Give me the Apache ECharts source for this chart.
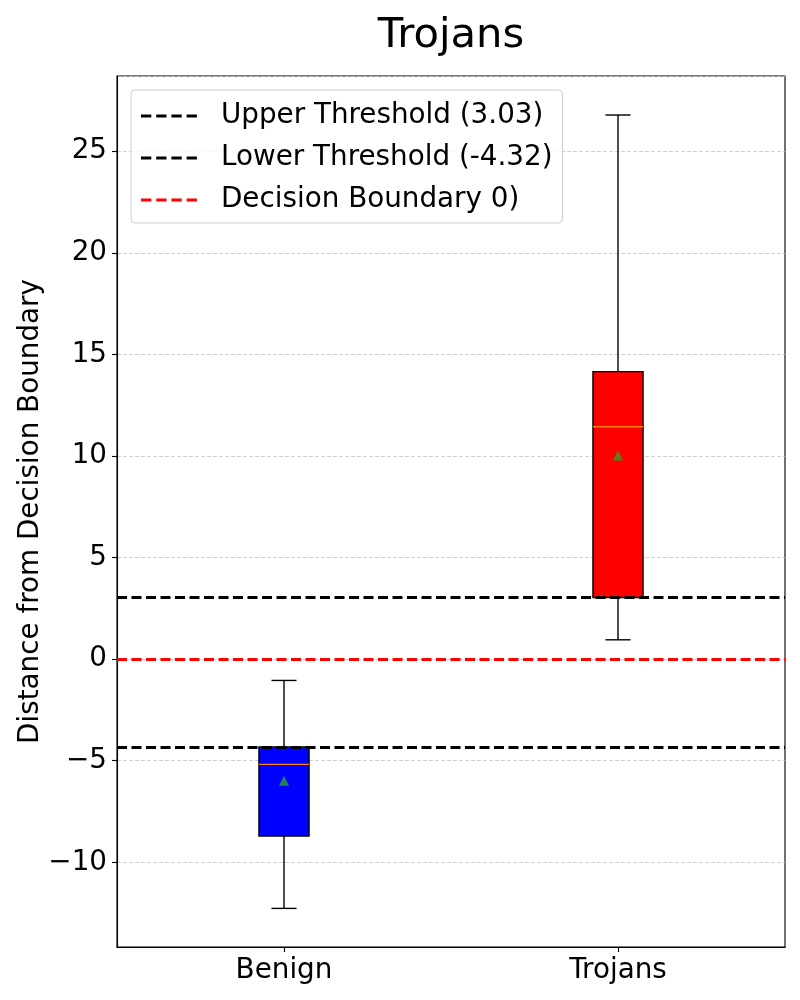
<!DOCTYPE html>
<html>
<head>
<meta charset="utf-8">
<script src="https://cdn.jsdelivr.net/npm/echarts@6/dist/echarts.min.js"></script>
<style>html,body{margin:0;padding:0;background:#fff;}#chart{width:800px;height:1000px;}</style>
</head>
<body>
<div id="chart"></div>
<script>
const categories = ['Benign', 'Trojans'];
const whiskerLow = [-12.27, 0.95];
const q1 = [-8.71, 3.03];
const medians = [-5.18, 11.44];
const q3 = [-4.32, 14.15];
const whiskerHigh = [-1.05, 26.78];
const means = [-5.99, 10.02];
const boxColors = ['#0000ff', '#ff0000'];
const upperThreshold = 3.03;
const lowerThreshold = -4.32;
const decisionBoundary = 0;
const legendNames = ['Upper Threshold (3.03)', 'Lower Threshold (-4.32)', 'Decision Boundary 0)'];

const FONT = 'DejaVu Sans';
const boxData = categories.map((c, i) => [i, whiskerLow[i], q1[i], medians[i], q3[i], whiskerHigh[i]]);
const meanData = categories.map((c, i) => [i, means[i]]);
const fmt = v => (v < 0 ? '\u2212' + Math.abs(v) : String(v));
const DASH_ICON = 'path://M0,0h10.3v2.8h-10.3z M15.2,0h10.3v2.8h-10.3z M30.4,0h10.3v2.8h-10.3z M45.6,0h10.3v2.8h-10.3z';

function renderBox(params, api) {
  const i = api.value(0);
  const bw = api.size([1, 0])[0] * 0.15;
  const hw = bw / 2, cw = bw / 4;
  const pLow = api.coord([i, api.value(1)]);
  const pQ1 = api.coord([i, api.value(2)]);
  const pMed = api.coord([i, api.value(3)]);
  const pQ3 = api.coord([i, api.value(4)]);
  const pHigh = api.coord([i, api.value(5)]);
  const x = pQ1[0];
  const ls = { stroke: '#000', lineWidth: 1.4 };
  return {
    type: 'group',
    children: [
      { type: 'line', shape: { x1: x, y1: pLow[1], x2: x, y2: pQ1[1] }, style: ls },
      { type: 'line', shape: { x1: x, y1: pQ3[1], x2: x, y2: pHigh[1] }, style: ls },
      { type: 'line', shape: { x1: x - cw, y1: pLow[1], x2: x + cw, y2: pLow[1] }, style: ls },
      { type: 'line', shape: { x1: x - cw, y1: pHigh[1], x2: x + cw, y2: pHigh[1] }, style: ls },
      { type: 'rect', shape: { x: x - hw, y: pQ3[1], width: bw, height: pQ1[1] - pQ3[1] },
        style: { fill: boxColors[params.dataIndex], stroke: '#000', lineWidth: 1.4 } },
      { type: 'line', shape: { x1: x - hw, y1: pMed[1], x2: x + hw, y2: pMed[1] },
        style: { stroke: '#ff7f0e', lineWidth: 1.4 } }
    ]
  };
}

function thresholdSeries(name, value, color) {
  const lineStyle = { color: color, width: 2.8, type: [10, 4.5] };
  return {
    name: name, type: 'line', data: [], symbol: 'none', z: 5,
    lineStyle: lineStyle, itemStyle: { color: color },
    markLine: {
      silent: true, symbol: ['none', 'none'], label: { show: false }, animation: false,
      lineStyle: lineStyle, emphasis: { disabled: true },
      data: [{ yAxis: value }]
    }
  };
}

const chart = echarts.init(document.getElementById('chart'), null, { renderer: 'canvas' });
chart.setOption({
  animation: false,
  backgroundColor: '#fff',
  textStyle: { fontFamily: FONT },
  title: {
    text: 'Trojans', left: 446, top: 10, textAlign: 'center',
    textStyle: { fontFamily: FONT, fontSize: 41.7, fontWeight: 'normal', color: '#000' }
  },
  legend: {
    data: legendNames.map(n => ({ name: n, icon: DASH_ICON })),
    orient: 'vertical', left: 131, top: 90,
    itemWidth: 56, itemHeight: 2.8, itemGap: 12,
    padding: [11, 10, 8, 10],
    borderColor: '#cccccc', borderWidth: 1, borderRadius: 4, backgroundColor: 'rgba(255,255,255,0.8)',
    textStyle: { fontFamily: FONT, fontSize: 27.8, color: '#000', lineHeight: 30, padding: [0, 0, 0, 19] }
  },
  grid: {
    left: 117, right: 15, top: 76, bottom: 53, containLabel: false,
    show: true, borderColor: '#000', borderWidth: 1.1, backgroundColor: '#fff'
  },
  xAxis: {
    type: 'category', data: categories, boundaryGap: true,
    axisLine: { show: true, onZero: false, lineStyle: { color: '#000', width: 1.1 } },
    axisTick: { show: true, inside: false, alignWithLabel: true, length: 5, lineStyle: { color: '#000', width: 1.1 } },
    axisLabel: { margin: 10, color: '#000', fontFamily: FONT, fontSize: 27.8 },
    splitLine: { show: false }
  },
  yAxis: {
    type: 'value', min: -14.17, max: 28.7, splitNumber: 8,
    name: 'Distance from Decision Boundary', nameLocation: 'middle', nameGap: 72, nameMoveOverlap: false,
    nameTextStyle: { fontFamily: FONT, fontSize: 27.8, color: '#000' },
    axisLine: { show: true, onZero: false, lineStyle: { color: '#000', width: 1.1 } },
    axisTick: { show: true, inside: false, length: 5, lineStyle: { color: '#000', width: 1.1 } },
    axisLabel: { margin: 10, color: '#000', fontFamily: FONT, fontSize: 27.8, formatter: fmt,
      showMinLabel: false, showMaxLabel: false },
    splitLine: { show: true, lineStyle: { color: '#c4c4c4', width: 0.8, type: [4, 2] } }
  },
  series: [
    { type: 'custom', renderItem: renderBox, data: boxData, z: 2, encode: { x: 0, y: [1, 2, 3, 4, 5] } },
    { type: 'scatter', data: meanData, symbol: 'triangle', symbolSize: 10, z: 3,
      itemStyle: { color: '#2ca02c' } },
    thresholdSeries(legendNames[0], upperThreshold, '#000'),
    thresholdSeries(legendNames[1], lowerThreshold, '#000'),
    thresholdSeries(legendNames[2], decisionBoundary, '#ff0000')
  ]
});
</script>
</body>
</html>
